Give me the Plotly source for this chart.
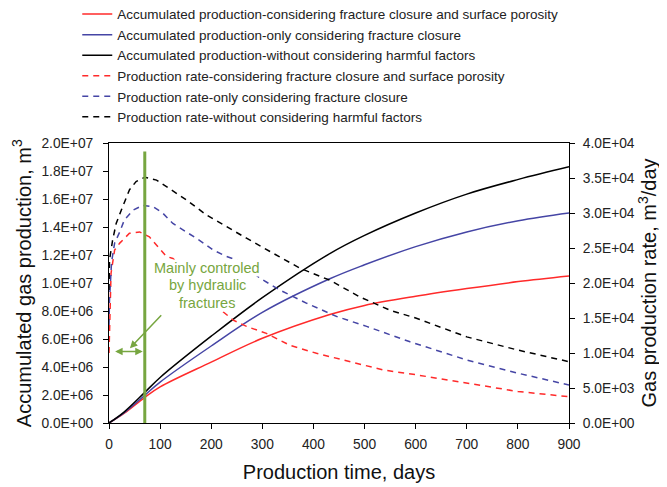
import plotly.graph_objects as go

# ---------------- data ----------------
cum_days = [0, 30, 69, 100, 200, 300, 432, 500, 600, 700, 801, 900]
cum_no_harm = [0, 0.8e6, 2.15e6, 3.25e6, 6.2e6, 8.95e6, 1.21e7, 1.34e7, 1.50e7, 1.635e7, 1.74e7, 1.83e7]
cum_closure = [0, 0.74e6, 1.95e6, 2.92e6, 5.5e6, 7.9e6, 1.03e7, 1.13e7, 1.26e7, 1.365e7, 1.445e7, 1.50e7]
cum_closure_porosity = [0, 0.7e6, 1.8e6, 2.58e6, 4.35e6, 6.05e6, 7.75e6, 8.4e6, 9.05e6, 9.6e6, 1.01e7, 1.05e7]

rate_cp_days = [0, 1, 4, 11, 21, 40, 60, 79, 96, 112, 125, 150, 190, 223, 243, 269, 308, 354,
                406, 472, 537, 600, 700, 800, 900]
rate_closure_porosity = [1.0e4, 1.38e4, 2.14e4, 2.47e4, 2.57e4, 2.71e4, 2.73e4, 2.66e4, 2.52e4,
                         2.38e4, 2.35e4, 2.2e4, 1.85e4, 1.59e4, 1.47e4, 1.38e4, 1.28e4, 1.11e4,
                         9.96e3, 8.76e3, 7.57e3, 6.9e3, 5.7e3, 4.5e3, 3.76e3]

rate_c_days = [0, 1, 5, 11, 21, 30, 47, 66, 86, 105, 125, 151, 177, 204, 230, 249, 295, 334,
               387, 446, 504, 589, 700, 801, 900]
rate_closure = [1.4e4, 1.76e4, 2.3e4, 2.57e4, 2.73e4, 2.9e4, 3.04e4, 3.11e4, 3.09e4, 3.0e4,
                2.85e4, 2.73e4, 2.61e4, 2.47e4, 2.38e4, 2.33e4, 2.07e4, 1.9e4, 1.71e4, 1.52e4,
                1.38e4, 1.16e4, 9.0e3, 7.1e3, 5.43e3]

rate_n_days = [0, 1, 7, 14, 24, 40, 53, 70, 93, 119, 151, 191, 230, 269, 315, 374, 432, 491,
               550, 600, 700, 801, 900]
rate_no_harm = [1.9e4, 2.33e4, 2.61e4, 2.85e4, 3.04e4, 3.33e4, 3.45e4, 3.51e4, 3.47e4, 3.35e4,
                3.19e4, 2.97e4, 2.8e4, 2.64e4, 2.45e4, 2.21e4, 2.04e4, 1.8e4, 1.61e4, 1.5e4,
                1.23e4, 1.04e4, 8.76e3]

x_ticks = [0, 100, 200, 300, 400, 500, 600, 700, 800, 900]
y1_ticks = [0, 2e6, 4e6, 6e6, 8e6, 1e7, 1.2e7, 1.4e7, 1.6e7, 1.8e7, 2e7]
y1_labels = ["0.0E+00", "2.0E+06", "4.0E+06", "6.0E+06", "8.0E+06", "1.0E+07",
             "1.2E+07", "1.4E+07", "1.6E+07", "1.8E+07", "2.0E+07"]
y2_ticks = [0, 5e3, 1e4, 1.5e4, 2e4, 2.5e4, 3e4, 3.5e4, 4e4]
y2_labels = ["0.0E+00", "5.0E+03", "1.0E+04", "1.5E+04", "2.0E+04", "2.5E+04",
             "3.0E+04", "3.5E+04", "4.0E+04"]

boundary_day = 70
boundary_top = 1.94e7
annot_lines = ["Mainly controled", "by hydraulic", "fractures"]
annot_y = [1.107e7, 9.86e6, 8.57e6]

# ---------------- styles ----------------
RED = "#ff2a2a"
BLUE = "#4545a5"
BLACK = "#000000"
GREEN = "#77a640"
FONT = "Liberation Sans, Arial, sans-serif"
DASH = "6px,5px"
TXT = "#222222"

fig = go.Figure()

fig.add_trace(go.Scatter(x=cum_days, y=cum_closure_porosity, mode="lines", line_shape="spline",
                         name="Accumulated production-considering fracture closure and surface porosity",
                         line=dict(color=RED, width=1.5)))
fig.add_trace(go.Scatter(x=cum_days, y=cum_closure, mode="lines", line_shape="spline",
                         name="Accumulated production-only considering fracture closure",
                         line=dict(color=BLUE, width=1.5)))
fig.add_trace(go.Scatter(x=cum_days, y=cum_no_harm, mode="lines", line_shape="spline",
                         name="Accumulated production-without considering harmful factors",
                         line=dict(color=BLACK, width=1.5)))
fig.add_trace(go.Scatter(x=rate_cp_days, y=rate_closure_porosity, mode="lines", yaxis="y2",
                         name="Production rate-considering fracture closure and surface porosity",
                         line=dict(color=RED, width=1.5, dash=DASH)))
fig.add_trace(go.Scatter(x=rate_c_days, y=rate_closure, mode="lines", yaxis="y2",
                         name="Production rate-only considering fracture closure",
                         line=dict(color=BLUE, width=1.5, dash=DASH)))
fig.add_trace(go.Scatter(x=rate_n_days, y=rate_no_harm, mode="lines", yaxis="y2",
                         name="Production rate-without considering harmful factors",
                         line=dict(color=BLACK, width=1.5, dash=DASH)))

# boundary line
fig.add_shape(type="line", x0=boundary_day, x1=boundary_day, y0=0, y1=boundary_top,
              xref="x", yref="y", line=dict(color=GREEN, width=3))

# double arrow
fig.add_annotation(x=boundary_day - 4, y=5.1e6, ax=9, ay=5.1e6, xref="x", yref="y",
                   axref="x", ayref="y", text="", showarrow=True, arrowhead=2,
                   arrowside="end+start", arrowsize=1, arrowwidth=1.5, arrowcolor=GREEN)
# pointer arrow
fig.add_annotation(x=41, y=5.34e6, ax=105, ay=7.8e6, xref="x", yref="y",
                   axref="x", ayref="y", text="", showarrow=True, arrowhead=2,
                   arrowsize=1, arrowwidth=1.5, arrowcolor=GREEN)
# text lines with white background
for txt, yv in zip(annot_lines, annot_y):
    fig.add_annotation(x=192, y=yv, xref="x", yref="y", text=txt, showarrow=False,
                       font=dict(family=FONT, size=14.5, color=GREEN), bgcolor="white",
                       borderpad=0)

# left axis title as a rotated annotation so it can sit close to the page edge
fig.add_annotation(x=-0.191, y=0.5, xref="paper", yref="paper", xanchor="center",
                   yanchor="middle", textangle=-90, showarrow=False,
                   text="Accumulated gas production, m<sup>3</sup>",
                   font=dict(size=20, family=FONT, color="#111111"))

# page body has an 8px margin, so the figure is drawn 8px in from the window edge
fig.update_layout(
    width=659, height=479,
    margin=dict(l=101, r=98, t=135, b=64, autoexpand=False),
    paper_bgcolor="white", plot_bgcolor="white",
    font=dict(family=FONT, color=TXT),
    showlegend=True,
    legend=dict(x=-0.069, y=1.515, xanchor="left", yanchor="top", bgcolor="rgba(0,0,0,0)",
                font=dict(family=FONT, size=13.5, color=TXT), itemwidth=30,
                tracegroupgap=0),
    xaxis=dict(range=[0, 900], tickvals=x_ticks, showline=True, linecolor="black", linewidth=1,
               mirror=True, ticks="outside", ticklen=5, tickcolor="black", showgrid=False,
               zeroline=False, tickfont=dict(size=13.8, family=FONT, color=TXT),
               ticklabelstandoff=3,
               title=dict(text="Production time, days", font=dict(size=20, family=FONT, color="#111111"),
                          standoff=14)),
    yaxis=dict(range=[0, 2e7], tickvals=y1_ticks, ticktext=y1_labels, showline=True,
               linecolor="black", linewidth=1, ticks="outside", ticklen=5, tickcolor="black",
               showgrid=False, zeroline=False, ticklabelstandoff=7,
               tickfont=dict(size=13.8, family=FONT, color=TXT)),
    yaxis2=dict(range=[0, 4e4], tickvals=y2_ticks, ticktext=y2_labels, overlaying="y",
                side="right", showline=True, linecolor="black", linewidth=1, ticks="outside",
                ticklen=5, tickcolor="black", showgrid=False, zeroline=False,
                ticklabelstandoff=5,
                tickfont=dict(size=13.8, family=FONT, color=TXT),
                title=dict(text="Gas production rate, m<sup>3</sup>/day",
                           font=dict(size=20, family=FONT, color="#111111"), standoff=8)),
)

fig.write_html("out.html")
